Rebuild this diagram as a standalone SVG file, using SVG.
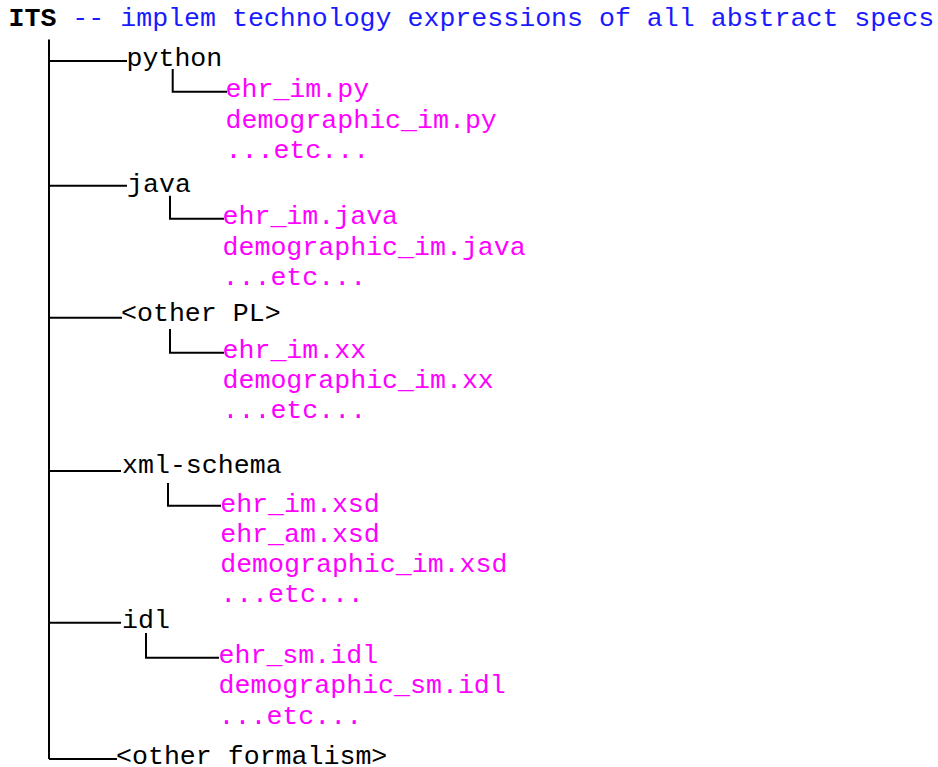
<svg xmlns="http://www.w3.org/2000/svg" width="938" height="767" viewBox="0 0 938 767">
<style>
text{font-family:"Liberation Mono","Courier New",monospace;font-size:26.6px}
.h{fill:#000}
.b{fill:#1a1aff}
.k{fill:#000}
.m{fill:#ff00ff}
.c{stroke:#000;stroke-width:2;fill:none}
</style>
<rect width="938" height="767" fill="#fff"/>
<g id="connectors">
<path class="c" d="M49,39.5V759"/>
<path class="c" d="M49,61H127"/>
<path class="c" d="M49,185.7H127"/>
<path class="c" d="M49,317.7H122"/>
<path class="c" d="M49,471H121"/>
<path class="c" d="M49,622.7H121"/>
<path class="c" d="M49,759H117"/>
<path class="c" d="M172.7,69V91.7H227"/>
<path class="c" d="M170,195.7V218.7H224"/>
<path class="c" d="M170,329V352.7H224"/>
<path class="c" d="M168,483V505.7H221"/>
<path class="c" d="M146,633V657.7H219"/>
</g>
<g id="its"><text x="8.5" y="26"><tspan class="h" font-weight="bold">ITS</tspan><tspan class="b"> -- implem technology expressions of all abstract specs</tspan></text></g>
<g id="python">
<text class="k" x="126.5" y="65.7">python</text>
<text class="m" x="225.5" y="97">ehr_im.py</text>
<text class="m" x="225.5" y="128">demographic_im.py</text>
<text class="m" x="225.5" y="158">...etc...</text>
</g>
<g id="java">
<text class="k" x="127" y="191.7">java</text>
<text class="m" x="222.5" y="224.3">ehr_im.java</text>
<text class="m" x="222.5" y="254.5">demographic_im.java</text>
<text class="m" x="222.5" y="284.5">...etc...</text>
</g>
<g id="other-pl">
<text class="k" x="121" y="321">&lt;other PL&gt;</text>
<text class="m" x="222.5" y="357.7">ehr_im.xx</text>
<text class="m" x="222.5" y="388.3">demographic_im.xx</text>
<text class="m" x="222.5" y="418.3">...etc...</text>
</g>
<g id="xml-schema">
<text class="k" x="122" y="473.3">xml-schema</text>
<text class="m" x="220.2" y="511.7">ehr_im.xsd</text>
<text class="m" x="220.2" y="541.7">ehr_am.xsd</text>
<text class="m" x="220.2" y="571.7">demographic_im.xsd</text>
<text class="m" x="220.2" y="602.3">...etc...</text>
</g>
<g id="idl">
<text class="k" x="122" y="627.7">idl</text>
<text class="m" x="218.5" y="662.7">ehr_sm.idl</text>
<text class="m" x="218.5" y="692.7">demographic_sm.idl</text>
<text class="m" x="218.5" y="723.5">...etc...</text>
</g>
<g id="other-formalism">
<text class="k" x="116" y="764.3">&lt;other formalism&gt;</text>
</g>
</svg>
